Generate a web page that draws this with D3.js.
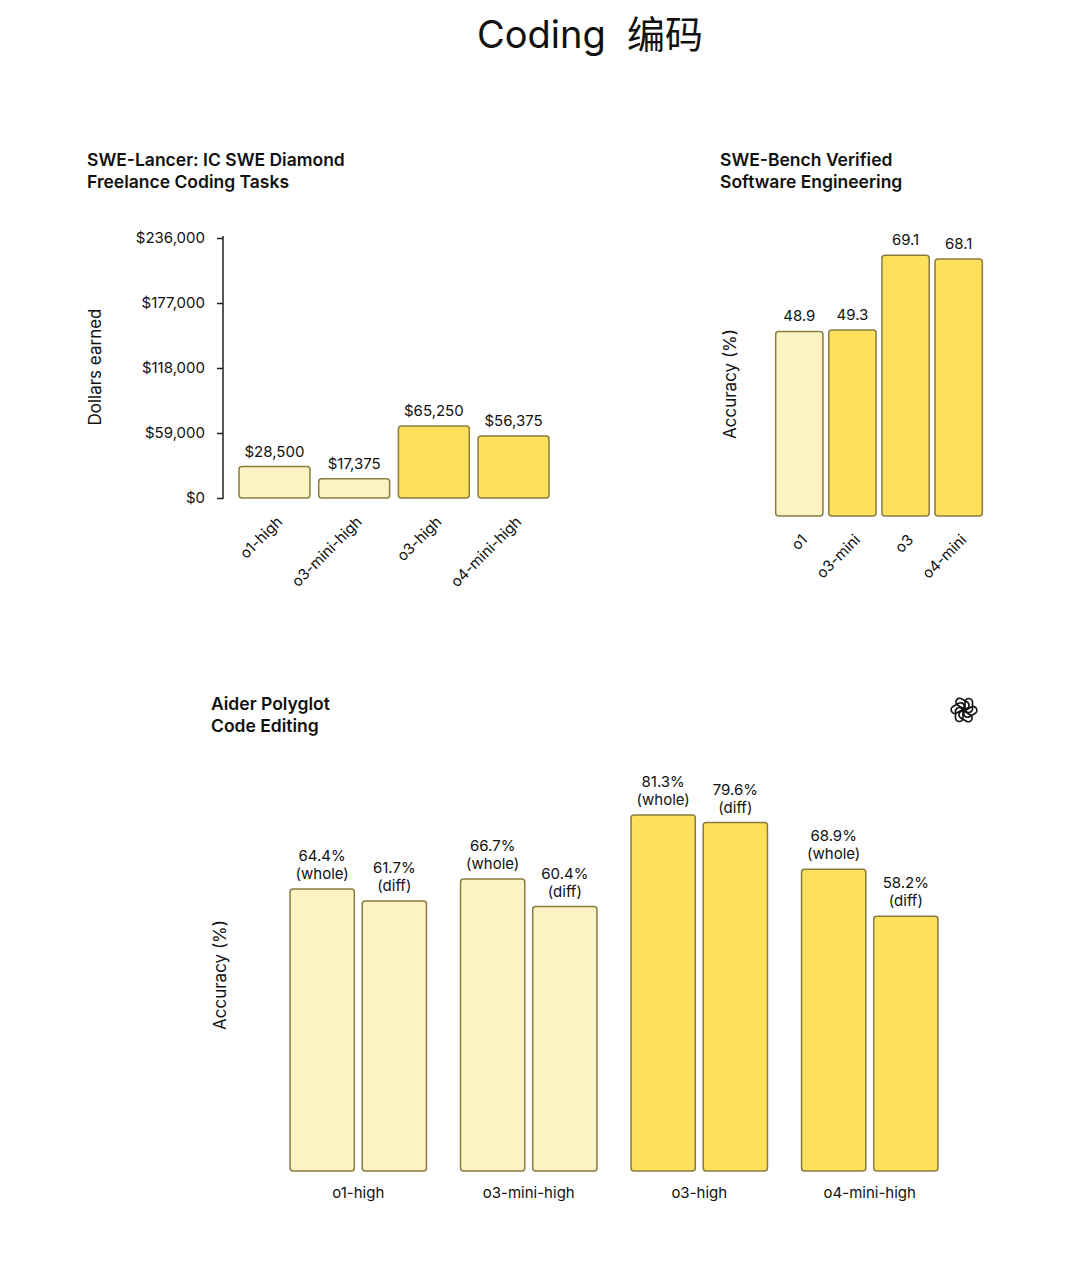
<!DOCTYPE html>
<html>
<head>
<meta charset="utf-8">
<style>
  body { margin: 0; background: #fff; }
  svg text { font-family: Inter, "Noto Sans", "Noto Sans CJK SC", sans-serif; fill: #111; }
</style>
</head>
<body>
<svg id="chart" width="1080" height="1268"></svg>
<script src="https://d3js.org/d3.v7.min.js"></script>
<script>
  // data
  let lancerModels = ['o1-high', 'o3-mini-high', 'o3-high', 'o4-mini-high']
  let lancerValues = [28500, 17375, 65250, 56375]
  let lancerTicks = [0, 59000, 118000, 177000, 236000]

  let benchModels = ['o1', 'o3-mini', 'o3', 'o4-mini']
  let benchValues = [48.9, 49.3, 69.1, 68.1]

  let aiderModels = ['o1-high', 'o3-mini-high', 'o3-high', 'o4-mini-high']
  let aiderModes = ['whole', 'diff']
  let aiderWhole = [64.4, 66.7, 81.3, 68.9]
  let aiderDiff = [61.7, 60.4, 79.6, 58.2]

  let lightModels = ['o1-high', 'o3-mini-high', 'o1']

  const light = '#fef4c3'
  const dark = '#fde05c'
  const edge = '#8a7b40'

  let svg = d3.select('#chart')

  function fillFor(model) {
    return lightModels.includes(model) ? light : dark
  }

  // page title
  svg.append('text')
    .attr('x', 590).attr('y', 48)
    .attr('text-anchor', 'middle')
    .style('font-size', '38px')
    .style('white-space', 'pre')
    .text('Coding  编码')

  function chartTitle(x, y, lines) {
    let t = svg.append('text')
      .attr('x', x).attr('y', y)
      .style('font-size', '17.5px').style('font-weight', 600)
    lines.forEach((l, i) => {
      t.append('tspan').attr('x', x).attr('dy', i == 0 ? 0 : 22).text(l)
    })
  }

  function yLabel(x, y, text) {
    svg.append('text')
      .attr('transform', 'translate(' + x + ',' + y + ') rotate(-90)')
      .attr('text-anchor', 'middle')
      .style('font-size', '17px')
      .text(text)
  }

  // ---- chart 1: SWE-Lancer
  chartTitle(87, 166, ['SWE-Lancer: IC SWE Diamond', 'Freelance Coding Tasks'])
  yLabel(101, 367, 'Dollars earned')

  let x1 = d3.scaleBand().domain(lancerModels).range([235, 553]).paddingInner(0.11).paddingOuter(0.05)
  let y1 = d3.scaleLinear().domain([0, 236000]).range([498, 238])

  let axis1 = svg.append('g')
    .attr('transform', 'translate(223,0)')
    .call(d3.axisLeft(y1).tickValues(lancerTicks).tickSize(6).tickPadding(12)
      .tickFormat(d => '$' + d3.format(',')(d)))
  axis1.select('.domain').attr('stroke', '#222').attr('stroke-width', 1.5)
    .attr('d', 'M0,' + (y1(0) + 1) + 'V' + (y1(236000) - 2))
  axis1.selectAll('.tick line').attr('stroke', '#222').attr('stroke-width', 1.5)
  axis1.selectAll('.tick text').style('font-size', '15px').attr('fill', '#111')

  svg.append('g').selectAll('rect')
    .data(lancerModels)
    .join('rect')
    .attr('x', d => x1(d))
    .attr('width', x1.bandwidth())
    .attr('y', (d, i) => y1(lancerValues[i]))
    .attr('height', (d, i) => y1(0) - y1(lancerValues[i]))
    .attr('rx', 3)
    .attr('fill', d => fillFor(d))
    .attr('stroke', edge).attr('stroke-width', 1.5)

  svg.append('g').selectAll('text')
    .data(lancerModels)
    .join('text')
    .attr('x', d => x1(d) + x1.bandwidth() / 2)
    .attr('y', (d, i) => y1(lancerValues[i]) - 10)
    .attr('text-anchor', 'middle')
    .style('font-size', '15px')
    .text((d, i) => '$' + d3.format(',')(lancerValues[i]))

  svg.append('g').selectAll('text')
    .data(lancerModels)
    .join('text')
    .attr('transform', d => 'translate(' + (x1(d) + x1.bandwidth() / 2 + 5) + ',519) rotate(-45)')
    .attr('text-anchor', 'end')
    .attr('dy', '0.35em')
    .style('font-size', '15px')
    .text(d => d)

  // ---- chart 2: SWE-Bench Verified
  chartTitle(720, 166, ['SWE-Bench Verified', 'Software Engineering'])
  yLabel(736, 384, 'Accuracy (%)')

  let x2 = d3.scaleBand().domain(benchModels).range([773, 985]).paddingInner(0.11).paddingOuter(0.05)
  let y2 = d3.scaleLinear().domain([0, 80]).range([516, 214])

  svg.append('g').selectAll('rect')
    .data(benchModels)
    .join('rect')
    .attr('x', d => x2(d))
    .attr('width', x2.bandwidth())
    .attr('y', (d, i) => y2(benchValues[i]))
    .attr('height', (d, i) => y2(0) - y2(benchValues[i]))
    .attr('rx', 3)
    .attr('fill', d => fillFor(d))
    .attr('stroke', edge).attr('stroke-width', 1.5)

  svg.append('g').selectAll('text')
    .data(benchModels)
    .join('text')
    .attr('x', d => x2(d) + x2.bandwidth() / 2)
    .attr('y', (d, i) => y2(benchValues[i]) - 10)
    .attr('text-anchor', 'middle')
    .style('font-size', '15px')
    .text((d, i) => benchValues[i].toFixed(1))

  svg.append('g').selectAll('text')
    .data(benchModels)
    .join('text')
    .attr('transform', d => 'translate(' + (x2(d) + x2.bandwidth() / 2 + 5) + ',537) rotate(-45)')
    .attr('text-anchor', 'end')
    .attr('dy', '0.35em')
    .style('font-size', '15px')
    .text(d => d)

  // ---- chart 3: Aider Polyglot
  chartTitle(211, 710, ['Aider Polyglot', 'Code Editing'])
  yLabel(226, 975, 'Accuracy (%)')

  let x3 = d3.scaleBand().domain(aiderModels).range([273, 955]).paddingInner(0.2).paddingOuter(0.1)
  let x3in = d3.scaleBand().domain(aiderModes).range([0, x3.bandwidth()]).paddingInner(0.11)
  let y3 = d3.scaleLinear().domain([0, 90]).range([1171, 777])

  let aiderRows = []
  aiderModels.forEach((m, i) => {
    aiderRows.push({model: m, mode: 'whole', value: aiderWhole[i]})
    aiderRows.push({model: m, mode: 'diff', value: aiderDiff[i]})
  })

  svg.append('g').selectAll('rect')
    .data(aiderRows)
    .join('rect')
    .attr('x', d => x3(d.model) + x3in(d.mode))
    .attr('width', x3in.bandwidth())
    .attr('y', d => y3(d.value))
    .attr('height', d => y3(0) - y3(d.value))
    .attr('rx', 3)
    .attr('fill', d => fillFor(d.model))
    .attr('stroke', edge).attr('stroke-width', 1.5)

  let vl = svg.append('g').selectAll('text')
    .data(aiderRows)
    .join('text')
    .attr('text-anchor', 'middle')
    .style('font-size', '15px')
  vl.append('tspan')
    .attr('x', d => x3(d.model) + x3in(d.mode) + x3in.bandwidth() / 2)
    .attr('y', d => y3(d.value) - 28)
    .text(d => d.value.toFixed(1) + '%')
  vl.append('tspan')
    .attr('x', d => x3(d.model) + x3in(d.mode) + x3in.bandwidth() / 2)
    .attr('y', d => y3(d.value) - 10)
    .text(d => '(' + d.mode + ')')

  svg.append('g').selectAll('text')
    .data(aiderModels)
    .join('text')
    .attr('x', d => x3(d) + x3.bandwidth() / 2)
    .attr('y', 1198)
    .attr('text-anchor', 'middle')
    .style('font-size', '15px')
    .text(d => d)

  // logo, rough blossom mark
  let logo = svg.append('g').attr('transform', 'translate(964,710)')
  d3.range(6).forEach(i => {
    logo.append('rect')
      .attr('x', 1).attr('y', -11.5)
      .attr('width', 7.5).attr('height', 14)
      .attr('rx', 3.75)
      .attr('fill', 'none')
      .attr('stroke', '#111').attr('stroke-width', 1.7)
      .attr('transform', 'rotate(' + (i * 60) + ')')
  })
</script>
</body>
</html>
